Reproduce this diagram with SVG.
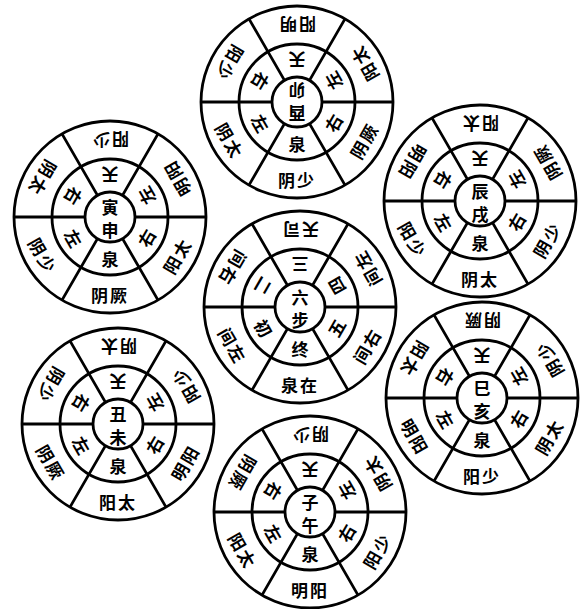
<svg xmlns="http://www.w3.org/2000/svg" xmlns:xlink="http://www.w3.org/1999/xlink" width="584" height="609" viewBox="0 0 584 609">
<style>
.c{fill:none;stroke:#000;stroke-width:2.8}
.l{fill:none;stroke:#000;stroke-width:2.8}
text{font-family:"Noto Sans CJK SC","Noto Sans CJK TC",sans-serif;font-weight:700;fill:#000;text-anchor:middle;dominant-baseline:central}
.o{font-size:17px;letter-spacing:2px}
.m{font-size:17px}
.z{font-size:17px}
</style>
<defs>
<g id="wheel">
<circle class="c" r="96"/>
<circle class="c" r="58"/>
<circle class="c" r="25"/>
<path class="l" d="M25,0H96M-25,0H-96M12.5,-21.65L48,-83.14M-12.5,-21.65L-48,-83.14M12.5,21.65L48,83.14M-12.5,21.65L-48,83.14"/>
</g>
</defs>
<rect width="584" height="609" fill="#fff"/>

<g id="wheel-maoyou" transform="translate(297,102)">
<use xlink:href="#wheel" href="#wheel"/>
<text class="z" transform="translate(0,-11) rotate(180)">卯</text>
<text class="z" transform="translate(0,12) rotate(180)">酉</text>
<text class="m" transform="translate(0,-41.5) rotate(180)">天</text>
<text class="m" transform="translate(35.9,-20.75) rotate(-120)">左</text>
<text class="m" transform="translate(35.9,20.75) rotate(-60)">右</text>
<text class="m" transform="translate(0,41.5)">泉</text>
<text class="m" transform="translate(-35.9,20.75) rotate(60)">左</text>
<text class="m" transform="translate(-35.9,-20.75) rotate(120)">右</text>
<text class="o" transform="translate(0,-77) rotate(180)">阳明</text>
<text class="o" transform="translate(66.7,-38.5) rotate(-120)">阳太</text>
<text class="o" transform="translate(66.7,38.5) rotate(-60)">阴厥</text>
<text class="o" transform="translate(0,77)">阴少</text>
<text class="o" transform="translate(-66.7,38.5) rotate(60)">阴太</text>
<text class="o" transform="translate(-66.7,-38.5) rotate(120)">阳少</text>
</g>

<g id="wheel-yinshen" transform="translate(110,217)">
<use xlink:href="#wheel" href="#wheel"/>
<text class="z" transform="translate(0,-11)">寅</text>
<text class="z" transform="translate(0,12)">申</text>
<text class="m" transform="translate(0,-41.5) rotate(180)">天</text>
<text class="m" transform="translate(35.9,-20.75) rotate(-120)">左</text>
<text class="m" transform="translate(35.9,20.75) rotate(-60)">右</text>
<text class="m" transform="translate(0,41.5)">泉</text>
<text class="m" transform="translate(-35.9,20.75) rotate(60)">左</text>
<text class="m" transform="translate(-35.9,-20.75) rotate(120)">右</text>
<text class="o" transform="translate(0,-77) rotate(180)">阳少</text>
<text class="o" transform="translate(66.7,-38.5) rotate(-120)">明阳</text>
<text class="o" transform="translate(66.7,38.5) rotate(-60)">阳太</text>
<text class="o" transform="translate(0,77)">阴厥</text>
<text class="o" transform="translate(-66.7,38.5) rotate(60)">阴少</text>
<text class="o" transform="translate(-66.7,-38.5) rotate(120)">阴太</text>
</g>

<g id="wheel-chenxu" transform="translate(480,201)">
<use xlink:href="#wheel" href="#wheel"/>
<text class="z" transform="translate(0,-11)">辰</text>
<text class="z" transform="translate(0,12)">戌</text>
<text class="m" transform="translate(0,-41.5) rotate(180)">天</text>
<text class="m" transform="translate(35.9,-20.75) rotate(-120)">左</text>
<text class="m" transform="translate(35.9,20.75) rotate(-60)">右</text>
<text class="m" transform="translate(0,41.5)">泉</text>
<text class="m" transform="translate(-35.9,20.75) rotate(60)">左</text>
<text class="m" transform="translate(-35.9,-20.75) rotate(120)">右</text>
<text class="o" transform="translate(0,-77) rotate(180)">阳太</text>
<text class="o" transform="translate(66.7,-38.5) rotate(-120)">阴厥</text>
<text class="o" transform="translate(66.7,38.5) rotate(-60)">阴少</text>
<text class="o" transform="translate(0,77)">阴太</text>
<text class="o" transform="translate(-66.7,38.5) rotate(60)">阳少</text>
<text class="o" transform="translate(-66.7,-38.5) rotate(120)">明阳</text>
</g>

<g id="wheel-center" transform="translate(300,307)">
<use xlink:href="#wheel" href="#wheel"/>
<text class="z" transform="translate(0,-11)">六</text>
<text class="z" transform="translate(0,12)">步</text>
<text class="m" transform="translate(0,-41.5) rotate(180)">三</text>
<text class="m" transform="translate(35.9,-20.75) rotate(-120)">四</text>
<text class="m" transform="translate(35.9,20.75) rotate(-60)">五</text>
<text class="m" transform="translate(0,41.5)">终</text>
<text class="m" transform="translate(-35.9,20.75) rotate(60)">初</text>
<text class="m" transform="translate(-35.9,-20.75) rotate(120)">二</text>
<text class="o" transform="translate(0,-77) rotate(180)">天司</text>
<text class="o" transform="translate(66.7,-38.5) rotate(-120)">间左</text>
<text class="o" transform="translate(66.7,38.5) rotate(-60)">间右</text>
<text class="o" transform="translate(0,77)">泉在</text>
<text class="o" transform="translate(-66.7,38.5) rotate(60)">间左</text>
<text class="o" transform="translate(-66.7,-38.5) rotate(120)">间右</text>
</g>

<g id="wheel-chouwei" transform="translate(118,424)">
<use xlink:href="#wheel" href="#wheel"/>
<text class="z" transform="translate(0,-11)">丑</text>
<text class="z" transform="translate(0,12)">未</text>
<text class="m" transform="translate(0,-41.5) rotate(180)">天</text>
<text class="m" transform="translate(35.9,-20.75) rotate(-120)">左</text>
<text class="m" transform="translate(35.9,20.75) rotate(-60)">右</text>
<text class="m" transform="translate(0,41.5)">泉</text>
<text class="m" transform="translate(-35.9,20.75) rotate(60)">左</text>
<text class="m" transform="translate(-35.9,-20.75) rotate(120)">右</text>
<text class="o" transform="translate(0,-77) rotate(180)">阴太</text>
<text class="o" transform="translate(66.7,-38.5) rotate(-120)">阳少</text>
<text class="o" transform="translate(66.7,38.5) rotate(-60)">明阳</text>
<text class="o" transform="translate(0,77)">阳太</text>
<text class="o" transform="translate(-66.7,38.5) rotate(60)">阴厥</text>
<text class="o" transform="translate(-66.7,-38.5) rotate(120)">阴少</text>
</g>

<g id="wheel-sihai" transform="translate(482,398)">
<use xlink:href="#wheel" href="#wheel"/>
<text class="z" transform="translate(0,-11)">巳</text>
<text class="z" transform="translate(0,12)">亥</text>
<text class="m" transform="translate(0,-41.5) rotate(180)">天</text>
<text class="m" transform="translate(35.9,-20.75) rotate(-120)">左</text>
<text class="m" transform="translate(35.9,20.75) rotate(-60)">右</text>
<text class="m" transform="translate(0,41.5)">泉</text>
<text class="m" transform="translate(-35.9,20.75) rotate(60)">左</text>
<text class="m" transform="translate(-35.9,-20.75) rotate(120)">右</text>
<text class="o" transform="translate(0,-77) rotate(180)">阴厥</text>
<text class="o" transform="translate(66.7,-38.5) rotate(-120)">阴少</text>
<text class="o" transform="translate(66.7,38.5) rotate(-60)">阴太</text>
<text class="o" transform="translate(0,77)">阳少</text>
<text class="o" transform="translate(-66.7,38.5) rotate(60)">明阳</text>
<text class="o" transform="translate(-66.7,-38.5) rotate(120)">阳太</text>
</g>

<g id="wheel-ziwu" transform="translate(310,512)">
<use xlink:href="#wheel" href="#wheel"/>
<text class="z" transform="translate(0,-11)">子</text>
<text class="z" transform="translate(0,12)">午</text>
<text class="m" transform="translate(0,-41.5) rotate(180)">天</text>
<text class="m" transform="translate(35.9,-20.75) rotate(-120)">左</text>
<text class="m" transform="translate(35.9,20.75) rotate(-60)">右</text>
<text class="m" transform="translate(0,41.5)">泉</text>
<text class="m" transform="translate(-35.9,20.75) rotate(60)">左</text>
<text class="m" transform="translate(-35.9,-20.75) rotate(120)">右</text>
<text class="o" transform="translate(0,-77) rotate(180)">阴少</text>
<text class="o" transform="translate(66.7,-38.5) rotate(-120)">阴太</text>
<text class="o" transform="translate(66.7,38.5) rotate(-60)">阳少</text>
<text class="o" transform="translate(0,77)">明阳</text>
<text class="o" transform="translate(-66.7,38.5) rotate(60)">阳太</text>
<text class="o" transform="translate(-66.7,-38.5) rotate(120)">阴厥</text>
</g>
</svg>
